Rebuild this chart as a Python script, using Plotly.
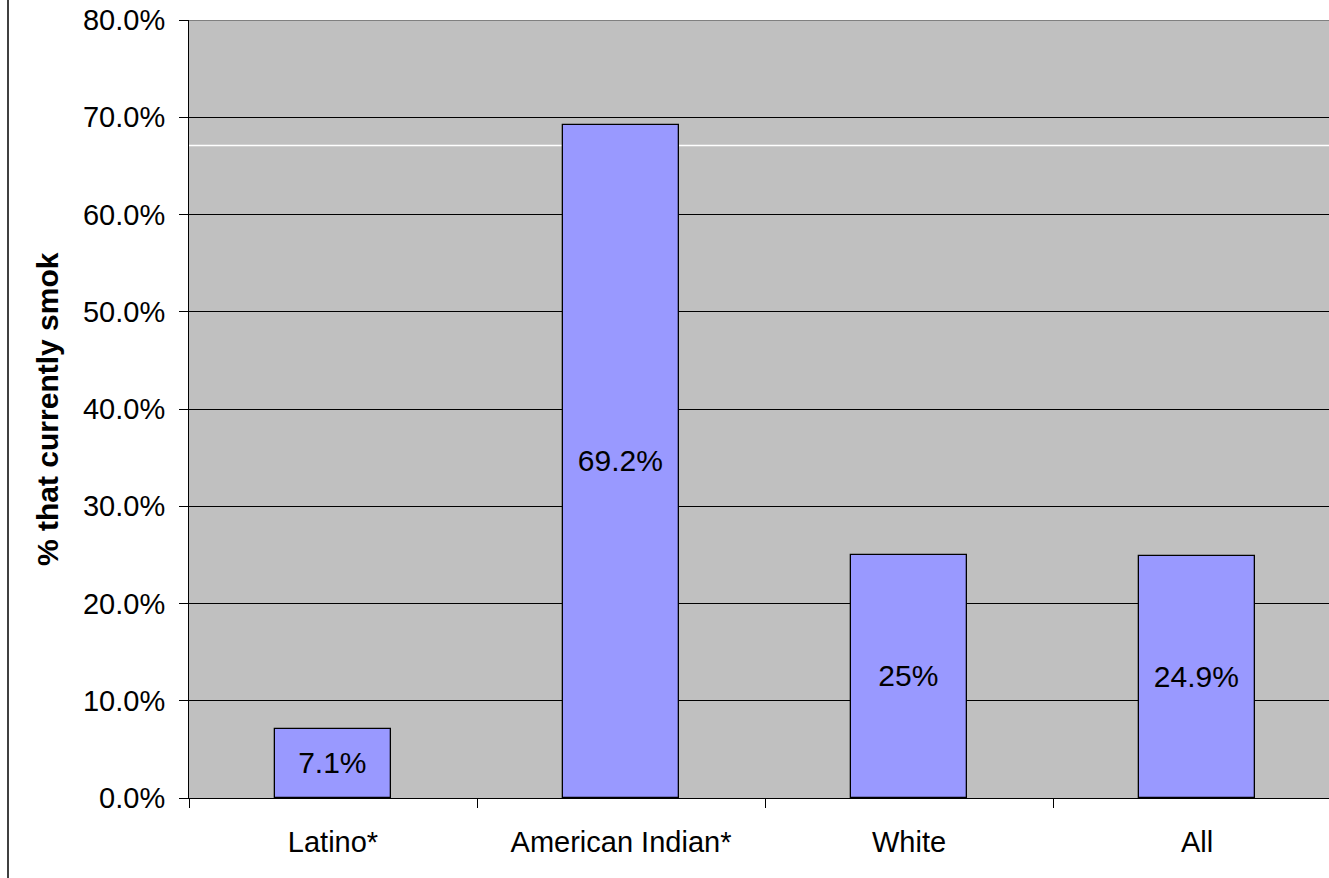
import plotly.graph_objects as go

categories = ["Latino*", "American Indian*", "White", "All"]
values = [7.1, 69.2, 25.0, 24.9]
labels = ["7.1%", "69.2%", "25%", "24.9%"]
y_ticks = [0, 10, 20, 30, 40, 50, 60, 70, 80]
y_tick_text = [f"{v:.1f}%" for v in y_ticks]

FONT = "Liberation Sans, Arial, sans-serif"
W, H = 1329, 878
L, R, T, B = 189, 0, 20, 80
plot_w = W - L - R
cat_px = 288.0

fig = go.Figure()
fig.add_trace(go.Bar(
    x=categories, y=values, text=labels,
    textposition="inside", insidetextanchor="middle",
    textfont=dict(family=FONT, size=30, color="black"),
    marker=dict(color="#9999FF", line=dict(color="black", width=1.3)),
    width=0.403, hoverinfo="skip", cliponaxis=False,
))

fig.update_layout(
    width=W, height=H,
    margin=dict(l=L, r=R, t=T, b=B, autoexpand=False),
    paper_bgcolor="white", plot_bgcolor="#C0C0C0",
    font=dict(family=FONT, size=29, color="black"),
    showlegend=False,
    bargap=0,
)
fig.update_xaxes(
    type="category", range=[-0.5, -0.5 + plot_w / cat_px],
    showline=True, linecolor="black", linewidth=1,
    ticks="outside", tickson="boundaries", ticklen=9, tickcolor="black",
    showgrid=False, tickfont=dict(family=FONT, size=29, color="black"),
    ticklabelstandoff=18, fixedrange=True,
)
fig.update_yaxes(
    range=[0, 80], tickvals=y_ticks, ticktext=y_tick_text,
    showline=True, linecolor="black", linewidth=1,
    ticks="outside", ticklen=9, tickcolor="black",
    showgrid=True, gridcolor="black", gridwidth=1,
    zeroline=False, tickfont=dict(family=FONT, size=29, color="black"),
    ticklabelstandoff=8, fixedrange=True,
)
# plot-area top border (gray) and white artifact line
fig.add_shape(type="line", xref="paper", yref="y", x0=0, x1=1, y0=80, y1=80,
              line=dict(color="#808080", width=2), layer="above")
fig.add_shape(type="line", xref="paper", yref="y", x0=0, x1=1, y0=67.1, y1=67.1,
              line=dict(color="white", width=1.5), layer="between")
# left border line of chart
fig.add_shape(type="line", xref="paper", yref="paper",
              x0=(8 - L) / plot_w, x1=(8 - L) / plot_w,
              y0=-B / (H - T - B), y1=1 + T / (H - T - B),
              line=dict(color="black", width=1.5))
fig.add_annotation(
    text="<b>% that currently smok</b>", textangle=-90,
    xref="paper", yref="paper", x=(47 - L) / plot_w, y=0.5,
    xanchor="center", yanchor="middle", showarrow=False,
    font=dict(family=FONT, size=30, color="black"),
)

fig.write_html("out.html")
